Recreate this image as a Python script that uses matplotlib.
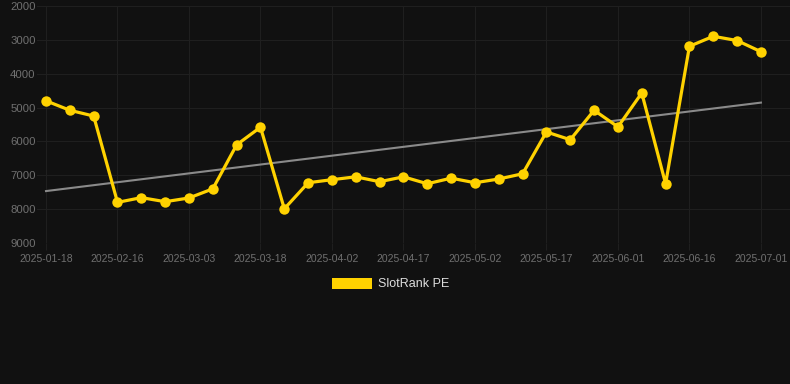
import numpy as np
import matplotlib
matplotlib.use("Agg")
import matplotlib.pyplot as plt
from matplotlib.patches import Patch

# Weekly rank points (lower is better, axis is inverted)
rank = [4800, 5080, 5250, 7800, 7660, 7780, 7670, 7400, 6100, 5580,
        7990, 7220, 7130, 7045, 7190, 7045, 7250, 7085, 7220, 7110,
        6955, 5720, 5950, 5080, 5570, 4570, 7250, 3190, 2895, 3020, 3350]
tick_labels = ['2025-01-18', '2025-02-16', '2025-03-03', '2025-03-18', '2025-04-02',
               '2025-04-17', '2025-05-02', '2025-05-17', '2025-06-01', '2025-06-16',
               '2025-07-01']
y_ticks = [2000, 3000, 4000, 5000, 6000, 7000, 8000, 9000]
series_name = 'SlotRank PE'

bg = '#111111'
gold = '#FFD200'

plt.rcParams['font.family'] = ['Liberation Sans', 'DejaVu Sans']

fig = plt.figure(figsize=(7.9, 3.84), dpi=100, facecolor=bg)
W, H = 790, 384
ax = fig.add_axes([37 / W, 1 - 243 / H, (790 - 37) / W, (243 - 6) / H])
ax.set_facecolor(bg)

x = np.arange(len(rank))
# tendencia lineal
coef = np.polyfit(x, rank, 1)
trend = np.polyval(coef, x)
ax.plot(x, trend, color='#8a8a8a', lw=1.5, zorder=2)

ax.plot(x, rank, color=gold, lw=2.3, marker='o', markersize=7.5,
        markeredgewidth=0, zorder=3)

ax.set_ylim(9000, 2000)
ax.set_xlim(-0.378, 31.22)
ax.set_yticks(y_ticks)
ax.set_yticklabels([str(v) for v in y_ticks])
ax.set_xticks(x[::3])
ax.set_xticklabels(tick_labels)

ax.grid(True, color='#1f1f1f', lw=0.8)
ax.set_axisbelow(True)
for s in ax.spines.values():
    s.set_visible(False)
ax.tick_params(axis='y', length=0, pad=1, labelsize=8.2, labelcolor='#707070')
ax.tick_params(axis='x', length=5, color='#1f1f1f', pad=3, labelsize=7.5,
               labelcolor='#707070')

handle = Patch(facecolor=gold, edgecolor='none')
fig.legend([handle], [series_name], loc='center', bbox_to_anchor=(391 / W, 1 - 284 / H),
           frameon=False, fontsize=9, labelcolor='#dddddd',
           handlelength=3.2, handleheight=1.0, handletextpad=0.5)

fig.savefig('out.png', dpi=100, facecolor=bg)
